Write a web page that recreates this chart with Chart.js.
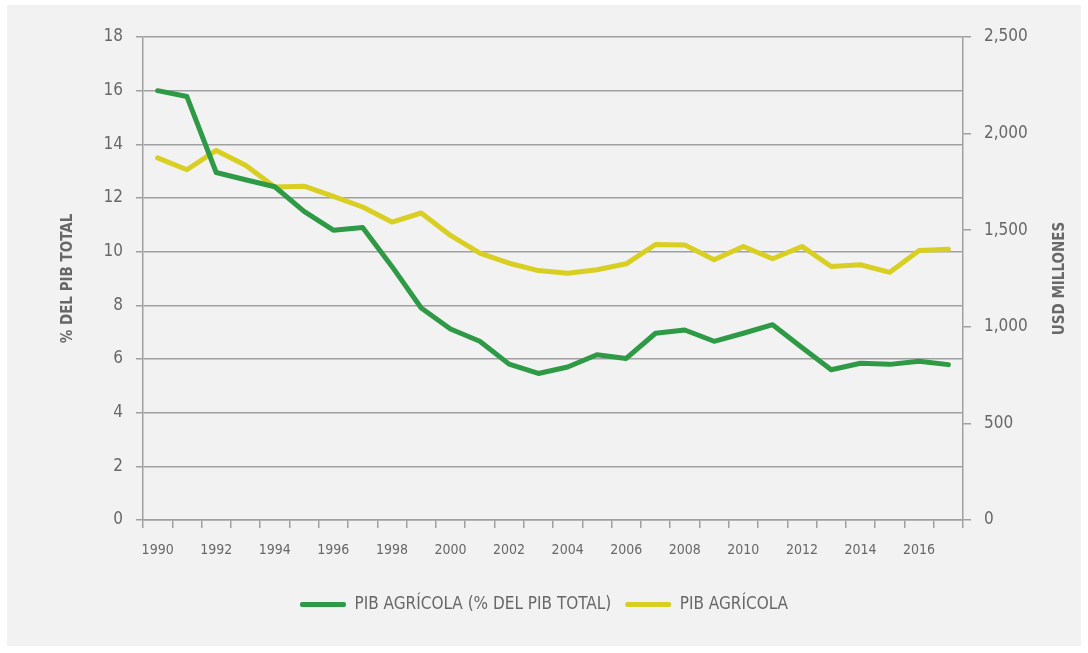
<!DOCTYPE html>
<html>
<head>
<meta charset="utf-8">
<title>PIB agrícola</title>
<script src="https://cdn.jsdelivr.net/npm/chart.js@4/dist/chart.umd.min.js"></script>
<style>
    html, body { margin: 0; padding: 0; background: #ffffff; }
    #wrap { width: 1088px; height: 653px; }
</style>
</head>
<body>
<div id="wrap"><canvas id="chart" width="1088" height="653"></canvas></div>
<script>
// --- Data ---
const years = [1990, 1991, 1992, 1993, 1994, 1995, 1996, 1997, 1998, 1999,
               2000, 2001, 2002, 2003, 2004, 2005, 2006, 2007, 2008, 2009,
               2010, 2011, 2012, 2013, 2014, 2015, 2016, 2017];

// PIB agrícola como % del PIB total (eje izquierdo)
const pibAgricolaPct = [16.0, 15.78, 12.95, 12.68, 12.42, 11.5, 10.8, 10.9, 9.45, 7.9,
                        7.12, 6.66, 5.81, 5.46, 5.7, 6.16, 6.02, 6.96, 7.08, 6.66,
                        6.96, 7.28, 6.43, 5.6, 5.84, 5.8, 5.92, 5.79];

// PIB agrícola en USD millones (eje derecho)
const pibAgricolaUsd = [1874, 1813, 1913, 1836, 1723, 1728, 1675, 1620, 1542, 1589,
                        1473, 1381, 1329, 1291, 1277, 1295, 1326, 1426, 1424, 1347,
                        1416, 1352, 1416, 1312, 1321, 1282, 1395, 1402];

const leftTicks = [0, 2, 4, 6, 8, 10, 12, 14, 16, 18];
const rightTicks = [0, 500, 1000, 1500, 2000, 2500];

const FONT = "'Liberation Sans Narrow', 'DejaVu Sans Condensed', sans-serif";
const TEXT = '#686868';
const GRID = '#a0a0a0';
const GREEN = '#2f9a45';
const YELLOW = '#d8cf22';

// grey panel behind the chart
const panelPlugin = {
    id: 'panel',
    beforeDraw(chart) {
        const ctx = chart.ctx;
        ctx.save();
        ctx.fillStyle = '#f2f2f2';
        ctx.fillRect(7, 5, 1074, 641);
        ctx.restore();
    }
};

// right axis title reads bottom-to-top, like the left one
const rightTitlePlugin = {
    id: 'rightTitle',
    afterDraw(chart) {
        const ctx = chart.ctx;
        const area = chart.chartArea;
        ctx.save();
        ctx.translate(1060, (area.top + area.bottom) / 2);
        ctx.rotate(-Math.PI / 2);
        ctx.font = 'bold 15px ' + FONT;
        ctx.fillStyle = TEXT;
        ctx.textAlign = 'center';
        ctx.textBaseline = 'middle';
        ctx.fillText('USD MILLONES', 0, 0);
        ctx.restore();
    }
};

const ctx = document.getElementById('chart').getContext('2d');
new Chart(ctx, {
    type: 'line',
    data: {
        labels: years.map(String),
        datasets: [
            {
                label: 'PIB AGRÍCOLA (% DEL PIB TOTAL)',
                data: pibAgricolaPct,
                yAxisID: 'y',
                borderColor: GREEN,
                backgroundColor: GREEN,
                borderWidth: 5,
                pointRadius: 0,
                tension: 0,
                borderJoinStyle: 'round',
                borderCapStyle: 'round'
            },
            {
                label: 'PIB AGRÍCOLA',
                data: pibAgricolaUsd,
                yAxisID: 'y1',
                borderColor: YELLOW,
                backgroundColor: YELLOW,
                borderWidth: 5,
                pointRadius: 0,
                tension: 0,
                borderJoinStyle: 'round',
                borderCapStyle: 'round'
            }
        ]
    },
    options: {
        responsive: false,
        animation: false,
        layout: { padding: { top: 37, bottom: 30, left: 0, right: 0 } },
        plugins: {
            tooltip: { enabled: false },
            legend: {
                position: 'bottom',
                labels: {
                    color: TEXT,
                    font: { family: FONT, size: 17 },
                    boxWidth: 46,
                    boxHeight: 5,
                    padding: 14,
                    useBorderRadius: true,
                    borderRadius: 2,
                    generateLabels(chart) {
                        const items = Chart.defaults.plugins.legend.labels.generateLabels(chart);
                        items.forEach(item => {
                            item.fillStyle = item.strokeStyle;
                            item.lineWidth = 0;
                        });
                        return items;
                    }
                }
            }
        },
        scales: {
            x: {
                offset: true,
                grid: {
                    offset: true,
                    drawOnChartArea: false,
                    drawTicks: true,
                    tickLength: 8,
                    color: GRID,
                    lineWidth: 1.5
                },
                border: { display: true, color: GRID, width: 1.5 },
                ticks: {
                    autoSkip: false,
                    maxRotation: 0,
                    padding: 14,
                    color: TEXT,
                    font: { family: FONT, size: 14 },
                    callback(value, index) {
                        return index % 2 === 0 ? years[index] : '';
                    }
                },
                afterFit(scale) { scale.height = 62; }
            },
            y: {
                position: 'left',
                min: 0,
                max: 18,
                afterBuildTicks(scale) { scale.ticks = leftTicks.map(v => ({ value: v })); },
                grid: {
                    color: GRID,
                    lineWidth: 1.5,
                    tickLength: 7
                },
                border: { display: true, color: GRID, width: 1.5 },
                ticks: {
                    padding: 13,
                    color: TEXT,
                    font: { family: FONT, size: 17 }
                },
                title: {
                    display: true,
                    text: '% DEL PIB TOTAL',
                    color: TEXT,
                    font: { family: FONT, size: 15, weight: 'bold' },
                    padding: { top: 59, bottom: 0 }
                },
                afterFit(scale) { scale.width = 143; }
            },
            y1: {
                position: 'right',
                min: 0,
                max: 2500,
                afterBuildTicks(scale) { scale.ticks = rightTicks.map(v => ({ value: v })); },
                grid: {
                    drawOnChartArea: false,
                    color: GRID,
                    lineWidth: 1.5,
                    tickLength: 8
                },
                border: { display: true, color: GRID, width: 1.5 },
                ticks: {
                    padding: 13,
                    color: TEXT,
                    font: { family: FONT, size: 17 },
                    callback(value) { return value.toLocaleString('en-US'); }
                },
                afterFit(scale) { scale.width = 125; }
            }
        }
    },
    plugins: [panelPlugin, rightTitlePlugin]
});
</script>
</body>
</html>
